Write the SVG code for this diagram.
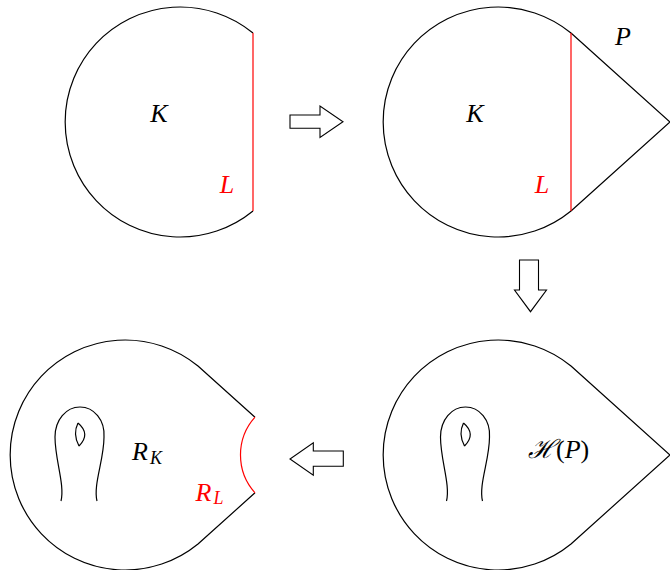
<svg xmlns="http://www.w3.org/2000/svg" width="670" height="570" viewBox="0 0 670 570">
<style>
.o{fill:none;stroke:#000;stroke-width:1.2;stroke-linejoin:round}
.r{fill:none;stroke:#ff0000;stroke-width:1.2}
.arr{fill:#fff;stroke:#000;stroke-width:1.1;stroke-linejoin:miter}
.t{font-family:"Liberation Serif","DejaVu Serif",serif;font-style:italic;font-size:26px;fill:#000}
.s{font-size:18px}
.up{font-style:normal}
.red{fill:#ff0000}
</style>
<defs>
<g id="handle">
<path class="o" d="M61,501 C65,485 55,460 55,437 C55,420 66,407 80,407 C94,407 105,420 104,437 C104,460 93,485 97,501"/>
<path class="o" d="M78,423 Q72.5,434 79,446 M78,423 Q91,434 79,446"/>
</g>
</defs>
<rect width="670" height="570" fill="#fff"/>

<g id="K1">
<path class="o" d="M253,33 A115,115 0 1 0 253,211"/>
<line class="r" x1="253" y1="33" x2="253" y2="211"/>
<text class="t" x="159" y="122" text-anchor="middle">K</text>
<text class="t red" x="227" y="193" text-anchor="middle">L</text>
</g>

<g id="P1">
<path class="o" d="M571,33 A115,115 0 1 0 571,211 L670,122 Z"/>
<line class="r" x1="571" y1="33" x2="571" y2="211"/>
<text class="t" x="475" y="122" text-anchor="middle">K</text>
<text class="t red" x="542" y="193" text-anchor="middle">L</text>
<text class="t" x="623" y="45" text-anchor="middle">P</text>
</g>

<g id="HP">
<path class="o" d="M571,366 A115,115 0 1 0 571,544 L670,455 Z"/>
<use href="#handle" transform="translate(385.5,0)"/>
<text class="t" x="528" y="458">ℋ<tspan class="up">(</tspan>P<tspan class="up">)</tspan></text>
</g>

<g id="R">
<path class="o" d="M255,417.2 L198,366 A115,115 0 1 0 198,544 L255,492.8"/>
<path class="r" d="M255,417.2 A56.5,56.5 0 0 0 255,492.8"/>
<use href="#handle"/>
<text class="t" x="132" y="460">R</text>
<text class="t s" x="150" y="463.5">K</text>
<text class="t red" x="195.5" y="501">R</text>
<text class="t s red" x="213.5" y="504">L</text>
</g>

<g id="connectors">
<polygon class="arr" points="290,115 320,115 320,106 343,121.7 320,137.4 320,128.3 290,128.3"/>
<polygon class="arr" points="519.5,260 538.5,260 538.5,290 546.5,290 530.5,311.7 514.5,290 519.5,290"/>
<polygon class="arr" points="343.3,451 313.3,451 313.3,442.7 290,459 313.3,475.2 313.3,466.3 343.3,466.3"/>
</g>
</svg>
